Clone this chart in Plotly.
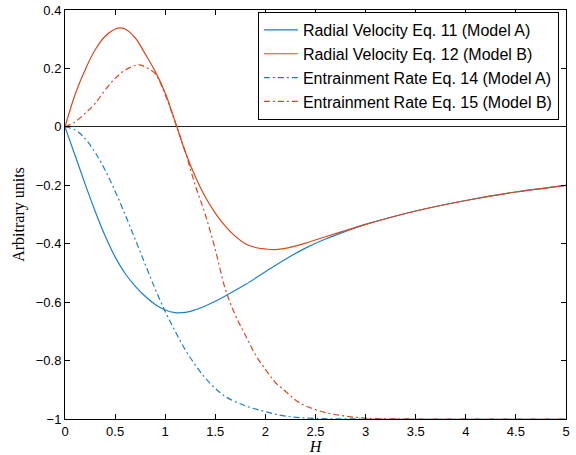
import plotly.graph_objects as go

# Radial Velocity Eq. 11 (Model A)
rv_a_x = [0, 0.1, 0.2, 0.3, 0.4, 0.5, 0.6, 0.7, 0.8, 0.9, 1.0, 1.1, 1.2, 1.3, 1.4, 1.5, 1.6, 1.8,
          2.0, 2.2, 2.4, 2.6, 2.8, 3.0, 3.5, 4.0, 4.5, 5.0]
rv_a_y = [0, -0.097, -0.195, -0.288, -0.373, -0.445, -0.502, -0.545, -0.58, -0.608, -0.627, -0.636,
          -0.635, -0.626, -0.613, -0.597, -0.579, -0.54, -0.496, -0.453, -0.415, -0.384, -0.358,
          -0.334, -0.288, -0.252, -0.223, -0.2]

# Radial Velocity Eq. 12 (Model B)
rv_b_x = [0, 0.1, 0.2, 0.3, 0.4, 0.5, 0.55, 0.6, 0.7, 0.8, 0.9, 1.0, 1.1, 1.2, 1.3, 1.4, 1.5, 1.6,
          1.7, 1.8, 1.9, 2.0, 2.1, 2.2, 2.4, 2.6, 2.8, 3.0, 3.5, 4.0, 4.5, 5.0]
rv_b_y = [0, 0.11, 0.195, 0.263, 0.31, 0.335, 0.339, 0.335, 0.305, 0.25, 0.19, 0.116, 0.017,
          -0.085, -0.17, -0.24, -0.295, -0.34, -0.375, -0.40, -0.413, -0.418, -0.42, -0.416,
          -0.398, -0.376, -0.355, -0.334, -0.288, -0.252, -0.223, -0.2]

# Entrainment Rate Eq. 14 (Model A)
er_a_x = [0, 0.1, 0.2, 0.3, 0.4, 0.5, 0.6, 0.7, 0.8, 0.9, 1.0, 1.1, 1.2, 1.3, 1.4, 1.5, 1.6, 1.8,
          2.0, 2.2, 2.5, 3.0, 3.5, 4.0, 4.5, 5.0]
er_a_y = [0, -0.01, -0.04, -0.087, -0.148, -0.22, -0.30, -0.385, -0.47, -0.555, -0.632, -0.70,
          -0.763, -0.815, -0.86, -0.895, -0.923, -0.955, -0.975, -0.99, -0.998, -1.0, -1.0,
          -1.0, -1.0, -1.0]

# Entrainment Rate Eq. 15 (Model B)
er_b_x = [0, 0.1, 0.2, 0.3, 0.4, 0.5, 0.6, 0.7, 0.75, 0.8, 0.9, 1.0, 1.1, 1.2, 1.3, 1.4, 1.5, 1.6,
          1.7, 1.8, 1.9, 2.0, 2.1, 2.2, 2.3, 2.4, 2.6, 2.8, 3.0, 3.5, 4.0, 4.5, 5.0]
er_b_y = [0, 0.017, 0.046, 0.08, 0.126, 0.166, 0.194, 0.21, 0.212, 0.205, 0.182, 0.11, 0.015,
          -0.085, -0.20, -0.30, -0.42, -0.555, -0.645, -0.713, -0.78, -0.83, -0.875, -0.905,
          -0.935, -0.955, -0.978, -0.99, -0.997, -1.0, -1.0, -1.0, -1.0]

x_ticks = [0, 0.5, 1, 1.5, 2, 2.5, 3, 3.5, 4, 4.5, 5]
x_tick_labels = ["0", "0.5", "1", "1.5", "2", "2.5", "3", "3.5", "4", "4.5", "5"]
y_ticks = [-1, -0.8, -0.6, -0.4, -0.2, 0, 0.2, 0.4]
y_tick_labels = ["\u22121", "\u22120.8", "\u22120.6", "\u22120.4", "\u22120.2", "0", "0.2", "0.4"]

BLUE = "#1a80c8"
RED = "#d9481c"
DASHDOT = "6px,3px,2px,3px"

fig = go.Figure()
fig.add_trace(go.Scatter(x=rv_a_x, y=rv_a_y, mode="lines", line=dict(color=BLUE, width=1.2, shape="spline"),
                         name="Radial Velocity Eq. 11 (Model A)"))
fig.add_trace(go.Scatter(x=rv_b_x, y=rv_b_y, mode="lines", line=dict(color=RED, width=1.2, shape="spline"),
                         name="Radial Velocity Eq. 12 (Model B)"))
fig.add_trace(go.Scatter(x=er_a_x, y=er_a_y, mode="lines",
                         line=dict(color=BLUE, width=1.2, dash=DASHDOT, shape="spline"),
                         name="Entrainment Rate Eq. 14 (Model A)"))
fig.add_trace(go.Scatter(x=er_b_x, y=er_b_y, mode="lines",
                         line=dict(color=RED, width=1.2, dash=DASHDOT, shape="spline"),
                         name="Entrainment Rate Eq. 15 (Model B)"))

axis_common = dict(
    showline=True, linecolor="black", linewidth=1, mirror="ticks",
    ticks="inside", ticklen=5, tickcolor="black", tickwidth=1,
    showgrid=False, automargin=False,
    tickfont=dict(family="Liberation Sans, Arial, sans-serif", size=13, color="black"),
)

fig.update_layout(
    width=576, height=455,
    margin=dict(l=65, r=10, t=10, b=36),
    paper_bgcolor="white", plot_bgcolor="white",
    showlegend=True,
    legend=dict(x=0.385, y=0.995, xanchor="left", yanchor="top",
                bordercolor="black", borderwidth=1, bgcolor="white",
                font=dict(family="Liberation Sans, Arial, sans-serif", size=16, color="black"),
                tracegroupgap=0, itemwidth=34),
    xaxis=dict(range=[0, 5], tickvals=x_ticks, ticktext=x_tick_labels,
               zeroline=False,
               title=dict(text="<i>H</i>", standoff=0,
                          font=dict(family="Liberation Serif, Times New Roman, serif", size=16, color="black")),
               **axis_common),
    yaxis=dict(range=[-1, 0.4], tickvals=y_ticks, ticktext=y_tick_labels,
               zeroline=True, zerolinecolor="#222222", zerolinewidth=1,
               title=dict(text="Arbitrary units", standoff=7,
                          font=dict(family="Liberation Serif, Times New Roman, serif", size=16, color="black")),
               **axis_common),
)

fig.write_html("out.html", config={"displayModeBar": False},
               post_script="document.body.style.margin='0';document.body.style.overflow='hidden';")
